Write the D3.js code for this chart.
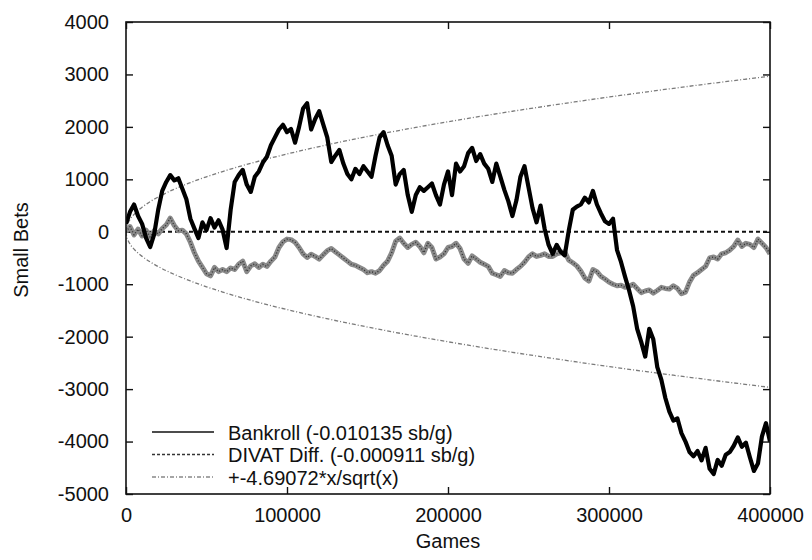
<!DOCTYPE html>
<html>
<head>
<meta charset="utf-8">
<script src="https://cdn.jsdelivr.net/npm/d3@7"></script>
<style>
  html, body { margin: 0; background: #fff; }
  svg { display: block; }
  text { font-family: "Liberation Sans", Arial, Helvetica, sans-serif; fill: #111; }
</style>
</head>
<body>
<svg id="chart" width="812" height="560"></svg>
<script>
// Games between consecutive samples of the two running totals
const gameStep = 2500;

// Cumulative bankroll, in small bets, sampled every gameStep games
const bankroll = [
  150, 380, 520, 300, 150, -120, -290, -50, 420, 780,
  950, 1080, 980, 1020, 820, 620, 250, 60, -120, 180,
  30, 260, 80, 220, 40, -310, 420, 950, 1080, 1180,
  900, 760, 1050, 1150, 1320, 1430, 1650, 1800, 1950, 2040,
  1900, 1960, 1700, 2000, 2350, 2450, 1950, 2150, 2300, 2050,
  1800, 1330, 1450, 1560, 1300, 1100, 1000, 1200, 1100, 1250,
  1150, 1050, 1450, 1800, 1900, 1650, 1450, 900, 1100, 1180,
  700, 380, 700, 850, 780, 850, 920, 700, 520, 900,
  1150, 700, 1300, 1150, 1250, 1500, 1600, 1350, 1480, 1300,
  1200, 950, 1300, 1050, 800, 580, 300, 600, 1050, 1250,
  850, 450, 180, 500, 60, -250, -420, -250, -380, -450,
  20, 420, 480, 520, 650, 560, 780, 520, 350, 200,
  150, 250, -350, -580, -860, -1120, -1420, -1850, -2100, -2380,
  -1850, -2050, -2580, -2820, -3170, -3430, -3600, -3560, -3840, -4000,
  -4200, -4280, -4180, -4360, -4120, -4520, -4620, -4350, -4460, -4250,
  -4200, -4080, -3920, -4100, -4020, -4300, -4560, -4420, -3900, -3650,
  -4000
];

// Cumulative DIVAT difference, in small bets, on the same game grid
const divatDiff = [
  0, 100, -60, 50, -80, 30, -100, 20, -40, 60,
  130, 260, 120, 20, 30, -40, -200, -400, -560, -680,
  -800, -840, -680, -760, -720, -760, -690, -720, -620, -560,
  -760, -650, -610, -680, -620, -660, -560, -480, -300, -190,
  -140, -150, -200, -300, -420, -490, -430, -470, -520, -440,
  -360, -320, -380, -440, -500, -560, -620, -640, -680, -720,
  -780, -760, -790, -740, -640, -560, -400, -180, -120, -220,
  -300, -240, -200, -280, -400, -220, -300, -520, -480, -420,
  -300, -280, -220, -320, -520, -600, -460, -520, -580, -620,
  -660, -790, -820, -850, -740, -780, -790, -720, -660, -580,
  -480, -420, -470, -450, -420, -470, -470, -420, -400, -380,
  -540, -590, -650, -750, -880, -940, -720, -760, -850, -900,
  -960, -1000, -1030, -1020, -1060, -1040, -1000, -1080, -1160, -1130,
  -1110, -1170, -1120, -1060, -1080, -1090, -1030, -1080, -1180, -1150,
  -960, -830, -780, -720, -660, -500, -480, -520, -420, -400,
  -350, -280, -160, -280, -220, -240, -300, -140, -220, -300,
  -420
];

// Envelope +-4.69072*x/sqrt(x), tabulated
const bandGames = [0, 500, 1000, 2500, 5000, 7500, 10000, 15000, 20000, 30000,
  40000, 50000, 60000, 70000, 80000, 90000, 100000, 120000, 140000, 160000,
  180000, 200000, 220000, 240000, 260000, 280000, 300000, 320000, 340000,
  360000, 380000, 400000];
const bandValues = [0, 104.9, 148.3, 234.5, 331.7, 406.2, 469.1, 574.5, 663.4, 812.5,
  938.1, 1048.9, 1149.0, 1241.0, 1326.7, 1407.2, 1483.3, 1624.9, 1755.1, 1876.3,
  1990.1, 2097.7, 2200.2, 2297.9, 2391.8, 2482.1, 2569.2, 2653.5, 2735.2,
  2814.4, 2891.6, 2966.7];

const xTicks = [0, 100000, 200000, 300000, 400000];
const yTicks = [4000, 3000, 2000, 1000, 0, -1000, -2000, -3000, -4000, -5000];
const legendLabels = [
  "Bankroll (-0.010135 sb/g)",
  "DIVAT Diff. (-0.000911 sb/g)",
  "+-4.69072*x/sqrt(x)"
];
const xTitle = "Games";
const yTitle = "Small Bets";

const svg = d3.select("#chart");
const plot = { left: 126, right: 770, top: 22, bottom: 494 };

const x = d3.scaleLinear().domain([0, 400000]).range([plot.left, plot.right]);
const y = d3.scaleLinear().domain([-5000, 4000]).range([plot.bottom, plot.top]);

// Plain ASCII hyphen for negative tick values
const plainNumber = d => String(d);

// Axes: ticks point inward on all four sides
const axisStyle = g => {
  g.select(".domain").remove();
  g.selectAll(".tick line").attr("stroke", "#111").attr("stroke-width", 1.4);
  g.selectAll(".tick text").attr("font-size", 20).attr("fill", "#111");
};
svg.append("g").attr("transform", `translate(${plot.left},0)`)
  .call(d3.axisLeft(y).tickValues(yTicks).tickSize(-7).tickPadding(17).tickFormat(plainNumber))
  .call(axisStyle);
svg.append("g").attr("transform", `translate(${plot.right},0)`)
  .call(d3.axisRight(y).tickValues(yTicks).tickSize(-7).tickFormat(""))
  .call(axisStyle);
svg.append("g").attr("transform", `translate(0,${plot.bottom})`)
  .call(d3.axisBottom(x).tickValues(xTicks).tickSize(-7).tickPadding(14).tickFormat(plainNumber))
  .call(axisStyle);
svg.append("g").attr("transform", `translate(0,${plot.top})`)
  .call(d3.axisTop(x).tickValues(xTicks).tickSize(-7).tickFormat(""))
  .call(axisStyle);

svg.append("clipPath").attr("id", "plotClip").append("rect")
  .attr("x", plot.left).attr("y", plot.top)
  .attr("width", plot.right - plot.left).attr("height", plot.bottom - plot.top);
const layer = svg.append("g").attr("clip-path", "url(#plotClip)");

// Standard-deviation envelope (dash-dot grey)
const bandLine = sign => d3.line()
  .x((d, i) => x(bandGames[i]))
  .y(d => y(sign * d))
  .curve(d3.curveMonotoneX);
[1, -1].forEach(sign => {
  layer.append("path").datum(bandValues)
    .attr("d", bandLine(sign))
    .attr("fill", "none").attr("stroke", "#7a7a7a")
    .attr("stroke-width", 1.3).attr("stroke-dasharray", "4,2,1,2");
});

// Zero reference line
layer.append("line")
  .attr("x1", x(0)).attr("x2", x(400000))
  .attr("y1", y(0)).attr("y2", y(0))
  .attr("stroke", "#111").attr("stroke-width", 2).attr("stroke-dasharray", "4,3");

const walk = d3.line().x((d, i) => x(i * gameStep)).y(d => y(d));

// DIVAT difference (grey, speckled)
layer.append("path").datum(divatDiff).attr("d", walk)
  .attr("fill", "none").attr("stroke", "#8a8a8a").attr("stroke-width", 5)
  .attr("stroke-linejoin", "round");
layer.append("path").datum(divatDiff).attr("d", walk)
  .attr("fill", "none").attr("stroke", "#333").attr("stroke-width", 1.4)
  .attr("stroke-dasharray", "1,2").attr("stroke-linejoin", "round");

// Bankroll (black)
layer.append("path").datum(bankroll).attr("d", walk)
  .attr("fill", "none").attr("stroke", "#000").attr("stroke-width", 4.2)
  .attr("stroke-linejoin", "round");

// Frame
svg.append("rect")
  .attr("x", plot.left).attr("y", plot.top)
  .attr("width", plot.right - plot.left).attr("height", plot.bottom - plot.top)
  .attr("fill", "none").attr("stroke", "#111").attr("stroke-width", 1.6);

// Legend
const legendStyles = [
  { stroke: "#111", width: 1.6, dash: null },
  { stroke: "#333", width: 1.6, dash: "3,2" },
  { stroke: "#888", width: 1.3, dash: "4,2,1,2" }
];
const legend = svg.append("g");
legendLabels.forEach((label, i) => {
  const cy = 432 + i * 22.5;
  legend.append("line")
    .attr("x1", 152).attr("x2", 214).attr("y1", cy).attr("y2", cy)
    .attr("stroke", legendStyles[i].stroke)
    .attr("stroke-width", legendStyles[i].width)
    .attr("stroke-dasharray", legendStyles[i].dash);
  legend.append("text")
    .attr("x", 228).attr("y", cy + 7.5)
    .attr("font-size", 20)
    .text(label);
});

// Axis titles
svg.append("text")
  .attr("x", (plot.left + plot.right) / 2).attr("y", 548)
  .attr("text-anchor", "middle").attr("font-size", 20)
  .text(xTitle);
svg.append("text")
  .attr("transform", "translate(28,250) rotate(-90)")
  .attr("text-anchor", "middle").attr("font-size", 20)
  .text(yTitle);
</script>
</body>
</html>
